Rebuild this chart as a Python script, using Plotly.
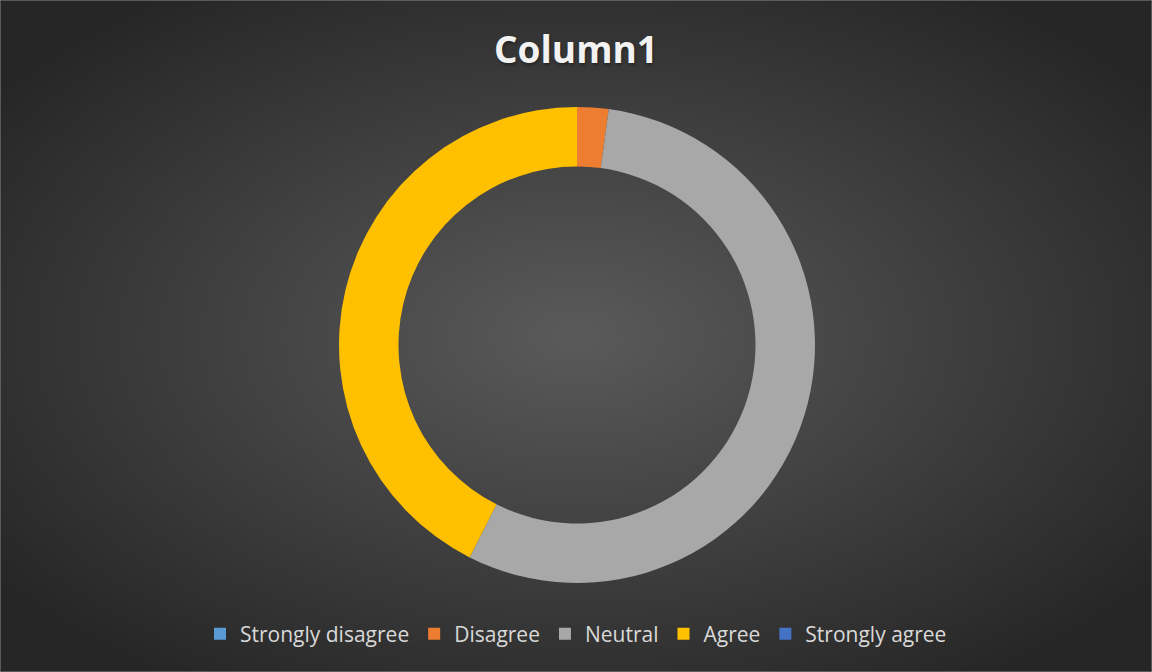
import base64
import plotly.graph_objects as go

categories = ["Strongly disagree", "Disagree", "Neutral", "Agree", "Strongly agree"]
values = [0, 1, 26, 20, 0]
colors = ["#5B9BD5", "#ED7D31", "#A8A8A8", "#FFC000", "#4472C4"]
title_text = "Column1"

W, H = 1152, 672
svg = f'''<svg xmlns="http://www.w3.org/2000/svg" width="{W}" height="{H}" viewBox="0 0 {W} {H}">
<defs><radialGradient id="g" cx="0.5" cy="0.5" r="0.62" gradientUnits="objectBoundingBox">
<stop offset="0" stop-color="#5a5a5a"/><stop offset="1" stop-color="#262626"/></radialGradient></defs>
<rect width="{W}" height="{H}" fill="url(#g)"/></svg>'''
bg = "data:image/svg+xml;base64," + base64.b64encode(svg.encode()).decode()

cx, cy, r = 577, 345, 238
fig = go.Figure(go.Pie(
    labels=categories, values=values, sort=False, direction="clockwise", rotation=0,
    hole=0.75, textinfo="none", hoverinfo="label+value+percent",
    marker=dict(colors=colors, line=dict(width=0)),
    domain=dict(x=[(cx - r) / W, (cx + r) / W], y=[1 - (cy + r) / H, 1 - (cy - r) / H]),
))
fig.update_layout(
    width=W, height=H, margin=dict(l=0, r=0, t=0, b=0),
    paper_bgcolor="#3a3a3a",
    images=[dict(source=bg, xref="paper", yref="paper", x=0, y=1, sizex=1, sizey=1,
                 sizing="stretch", layer="below", xanchor="left", yanchor="top")],
    shapes=[dict(type="rect", xref="paper", yref="paper", x0=0, y0=0, x1=1, y1=1,
                 line=dict(color="#8c8c8c", width=1), fillcolor="rgba(0,0,0,0)")],
    title=dict(text=f"<b>{title_text}</b>", x=0.5, xanchor="center", y=1 - 50 / H, yanchor="middle",
               font=dict(family="Open Sans", size=37, color="#F2F2F2",
                         shadow="1px 2px 3px rgba(0,0,0,0.35)")),
    legend=dict(orientation="h", x=0.5, xanchor="center", y=1 - 634 / H, yanchor="middle",
                font=dict(family="Open Sans", size=21, color="#D9D9D9"), bgcolor="rgba(0,0,0,0)"),
    showlegend=True,
)
fig.write_html("out.html")
